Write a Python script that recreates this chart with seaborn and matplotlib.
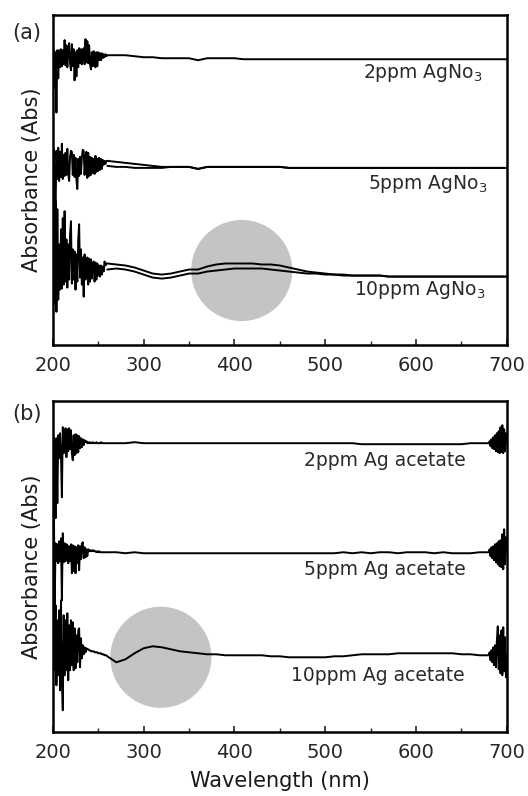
import matplotlib
matplotlib.use("Agg")
import matplotlib.pyplot as plt
from matplotlib.ticker import MultipleLocator
import seaborn as sns
import numpy as np

sns.set_style("ticks")
plt.rcParams['font.family'] = ['DejaVu Sans']
plt.rcParams['mathtext.fontset'] = 'dejavusans'

# wavelength grids (nm)
noise_nm = np.arange(200, 260)          # noisy UV region, 1 nm steps
smooth_a_nm = np.arange(260, 701, 10)   # panel (a) smooth part
smooth_b_nm = np.arange(260, 671, 10)   # panel (b) smooth part
tail_b_nm = np.arange(680, 701)         # panel (b) noisy red end

# ---- panel (a): AgNO3 (offset spectra, arbitrary units) ----
a2_base = 285
a2_noise = [0, 8, -30, 6, -54, 8, -20, 8, -9, 9, -8, 8, -6, 18, -7, 13, -9, 8, 15, -5,
            -12, 14, -8, 9, -22, 6, -18, 8, -9, 10, -5, 9, -6, 8, 10, -6, 19, -4, 17, -5,
            13, -6, -11, 6, -8, 7, -5, -9, 6, -8, 6, -2, 5, -2, 5, 0, 4, 1, 4, 2]
a2_smooth = [288, 288, 288, 287, 286, 286, 285, 285, 285, 285, 283, 285, 285, 285, 285,
             284, 284, 284, 284, 284, 284, 284, 284, 284, 284, 284, 284, 284, 284, 284,
             284, 284, 284, 284, 284, 284, 284, 284, 284, 284, 284, 284, 284, 284, 284]

a5_base = 177
a5_noise = [0, 18, -14, -45, 16, -12, 19, -14, 15, -10, 23, -12, 12, -9, 14, -8, 18, -6, -14, 10,
            16, 15, -8, 12, -10, 9, -12, -22, 8, -9, 10, -7, 9, 17, 16, -8, 10, 15, -11, 14,
            -9, 10, -8, 9, -6, 8, -7, 11, -5, 8, -4, 9, -3, 8, -2, 7, 2, 6, 3, 6]
a5_upper = [183, 182, 181, 180, 179, 178, 177, 177, 177, 177, 175, 177, 177, 177, 177,
            177, 177, 177, 177, 177, 176, 176, 176, 176, 176, 176, 176, 176, 176, 176,
            176, 176, 176, 176, 176, 176, 176, 176, 176, 176, 176, 176, 176, 176, 176]
a5_lower = [178, 177, 177, 176, 176, 176, 176, 177, 177, 177, 175, 177, 177, 177, 177,
            177, 177, 177, 177, 177, 176, 176, 176, 176, 176, 176, 176, 176, 176, 176,
            176, 176, 176, 176, 176, 176, 176, 176, 176, 176, 176, 176, 176, 176, 176]

a10_base = 75
a10_noise = [0, -35, 20, 68, -42, 60, -30, 25, -20, 40, -19, 51, -15, 58, -12, 30, -18, 25, -10, 35,
             48, -14, 20, -10, 18, -20, 15, -12, 30, 45, -8, 20, -15, 12, -27, 15, -10, 10, 12, -15,
             11, -12, 10, -9, 6, 8, -12, 7, -10, 6, -6, 4, -7, 4, -5, 3, -2, 8, 4, 6]
a10_upper = [81, 80, 79, 77, 74, 71, 70, 71, 73, 75, 75, 78, 80, 81, 81,
             81, 81, 80, 80, 79, 77, 75, 73, 72, 71, 70, 70, 69, 69, 69,
             69, 68, 68, 68, 68, 68, 68, 68, 68, 68, 68, 68, 68, 68, 68]
a10_lower = [75, 76, 75, 73, 70, 67, 66, 67, 69, 71, 71, 73, 74, 75, 76,
             76, 76, 76, 75, 74, 73, 72, 71, 71, 70, 70, 69, 69, 69, 69,
             69, 68, 68, 68, 68, 68, 68, 68, 68, 68, 68, 68, 68, 68, 68]

# ---- panel (b): Ag acetate ----
b2_base = 289
b2_noise = [0, 6, -17, -75, 5, -60, 8, -15, 10, -12, -54, 16, -10, 12, 15, -14, 14, -8, 15, -6,
            13, -10, -17, 8, -12, 9, -10, 8, -9, 7, -5, 5, -4, 4, -2, 3, 1, 2, 0, 1,
            0, 1, 0, 0, 1, 0, 0, 0, 1, 0, 0, 0, 0, 1, 0, 0, 0, 0, 0, 0]
b2_smooth = [289, 289, 289, 290, 289, 289, 289, 289, 289, 289, 289, 289, 289, 289,
             289, 289, 289, 289, 289, 289, 289, 289, 289, 289, 289, 289, 289, 289,
             288, 288, 288, 288, 288, 288, 288, 288, 288, 288, 288, 288, 289, 289]
b2_tail = [0, 2, -3, 4, -5, 6, -6, 8, -8, 10, -9, 12, -10, 16, -9, 18, -10, 14, -8, 10, 0]

b5_base = 179
b5_noise = [0, 81, -60, 10, -8, 9, -10, 12, -8, 15, -47, 20, -9, 10, -8, 9, 8, -10, 7, -8,
            9, -20, 8, -18, 7, -20, 6, -10, 8, -17, 7, -6, 9, 11, -5, 6, -4, 4, -3, 4,
            2, 3, 2, 3, 2, 3, 2, 2, 1, 2, 1, 2, 1, 1, 1, 1, 1, 1, 1, 1]
b5_smooth = [180, 180, 179, 180, 179, 179, 179, 179, 179, 179, 179, 179, 179, 179,
             179, 179, 179, 179, 179, 179, 179, 179, 179, 179, 179, 179, 180, 179,
             180, 179, 180, 180, 179, 180, 180, 180, 179, 180, 179, 179, 179, 180]
b5_tail = [0, 3, -4, 5, -6, 6, -8, 8, -10, 9, -12, 11, -14, 12, -15, 18, -17, 23, -12, 15, 0]

b10_base = 82
b10_noise = [0, 37, -20, 45, -35, 30, -25, 40, -40, 50, -30, -60, 35, -25, 30, -20, 37, -30, 25, -20,
             30, -15, 28, -20, 22, -18, 15, -12, 20, 22, -17, 12, -8, 5, -4, 3, -2, 2, 1, 1,
             0, 0, -1, -1, -1, -1, -2, -2, -2, -2, -3, -3, -3, -3, -4, -4, -4, -5, -5, -5]
b10_smooth = [76, 70, 73, 79, 84, 86, 85, 83, 81, 80, 79, 78, 78, 77,
              77, 77, 77, 77, 76, 76, 75, 75, 75, 75, 75, 76, 76, 77,
              78, 78, 78, 78, 79, 79, 79, 79, 79, 79, 79, 78, 78, 77]
b10_tail = [0, 3, -5, 5, -7, 8, -10, 10, -12, 15, 29, -14, 20, -18, 25, -20, 28, -16, 18, -22, 0]

# highlighted regions (centre wavelength, level)
circle_a = (408, 74)
circle_b = (319, 75)


def trace(ax, x, y, lw=1.4):
    sns.lineplot(x=x, y=y, ax=ax, color='black', linewidth=lw,
                 sort=False, estimator=None, zorder=3)


fig = plt.figure(figsize=(5.28, 7.96), dpi=100)
ax_a = fig.add_axes([0.100, 0.5666, 0.860, 0.4146])
ax_b = fig.add_axes([0.100, 0.080, 0.860, 0.416])

# panel a
sns.scatterplot(x=[circle_a[0]], y=[circle_a[1]], ax=ax_a, s=5300,
                color='#c4c4c4', edgecolor='none', zorder=1)
trace(ax_a, np.concatenate([noise_nm, smooth_a_nm]),
      np.concatenate([a2_base + np.array(a2_noise), a2_smooth]))
trace(ax_a, np.concatenate([noise_nm, smooth_a_nm]),
      np.concatenate([a5_base + np.array(a5_noise), a5_upper]))
trace(ax_a, smooth_a_nm, a5_lower)
trace(ax_a, np.concatenate([noise_nm, smooth_a_nm]),
      np.concatenate([a10_base + np.array(a10_noise), a10_upper]))
trace(ax_a, smooth_a_nm, a10_lower)

# panel b
sns.scatterplot(x=[circle_b[0]], y=[circle_b[1]], ax=ax_b, s=5300,
                color='#c4c4c4', edgecolor='none', zorder=1)
for base, nz, sm, tl in [(b2_base, b2_noise, b2_smooth, b2_tail),
                         (b5_base, b5_noise, b5_smooth, b5_tail),
                         (b10_base, b10_noise, b10_smooth, b10_tail)]:
    trace(ax_b, np.concatenate([noise_nm, smooth_b_nm, tail_b_nm]),
          np.concatenate([base + np.array(nz), sm, sm[-1] + np.array(tl)]))

lab_kw = dict(ha='right', va='center', fontsize=13.5, color='#2a2a2a')
ax_a.text(673, 270, '2ppm AgNo$_3$', **lab_kw)
ax_a.text(679, 160, '5ppm AgNo$_3$', **lab_kw)
ax_a.text(677, 55, '10ppm AgNo$_3$', **lab_kw)
ax_b.text(655, 272, '2ppm Ag acetate', **lab_kw)
ax_b.text(655, 163, '5ppm Ag acetate', **lab_kw)
ax_b.text(653, 57, '10ppm Ag acetate', **lab_kw)

for ax, top in [(ax_a, 328), (ax_b, 331)]:
    ax.set_xlim(200, 700)
    ax.set_ylim(0, top)
    ax.set_yticks([])
    ax.xaxis.set_major_locator(MultipleLocator(100))
    ax.xaxis.set_minor_locator(MultipleLocator(50))
    ax.tick_params(axis='x', which='major', direction='in', length=4, width=1.2,
                   labelsize=14, pad=8)
    ax.tick_params(axis='x', which='minor', direction='in', length=3, width=1.0)
    for s in ax.spines.values():
        s.set_linewidth(1.8)
        s.set_color('black')
    ax.set_ylabel('Absorbance (Abs)', fontsize=15, labelpad=8, color='#1a1a1a')
    ax.set_xlabel('')

ax_b.set_xlabel('Wavelength (nm)', fontsize=15, labelpad=6, color='#1a1a1a')

fig.text(0.023, 1 - 33 / 796, '(a)', fontsize=15, va='center')
fig.text(0.023, 1 - 414 / 796, '(b)', fontsize=15, va='center')

fig.savefig('out.png', dpi=100)
